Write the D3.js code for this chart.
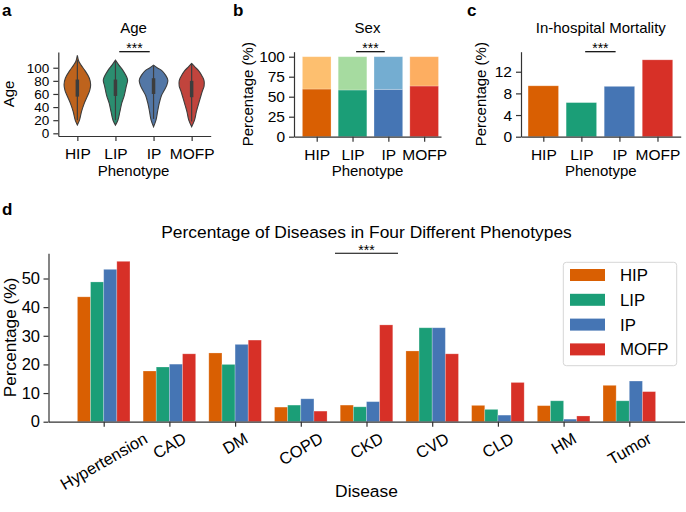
<!DOCTYPE html>
<html><head><meta charset="utf-8">
<script src="https://cdn.jsdelivr.net/npm/d3@7"></script>
<style>body{margin:0;background:#fff}svg{font-family:"Liberation Sans",Arial,Helvetica,sans-serif}</style>
</head><body>
<svg id="chart" width="686" height="512"></svg>
<script>
// ---------------- data ----------------
const phenotypes = ["HIP", "LIP", "IP", "MOFP"];
const colors = ["#d95f02", "#1b9e77", "#4575b4", "#d73027"];
const lightColors = ["#fdbf6f", "#a6dba0", "#74add1", "#fdae61"];

// Age violins: [age, relative density]
const violinHIP = [[12.5,0],[20,0.15],[33,0.29],[46,0.49],[58,0.73],[66,0.87],[74,0.93],[84,0.84],[96,0.52],[104,0.26],[110,0.10],[119,0]];
const violinLIP = [[12.5,0],[20,0.17],[33,0.31],[46,0.44],[58,0.62],[72,0.76],[80,0.85],[84,0.82],[96,0.52],[104,0.24],[111.6,0]];
const violinIP  = [[10,0],[20,0.17],[33,0.28],[46,0.40],[58,0.56],[66,0.76],[73.5,0.93],[81,1.0],[88,0.86],[96,0.56],[100,0.25],[104,0]];
const violinMOFP= [[10,0],[20,0.20],[33,0.33],[46,0.50],[58,0.66],[65,0.76],[72,0.87],[80,0.87],[86,0.76],[96,0.47],[101,0.24],[106.5,0]];
const ageQ1 = [56, 57, 60, 55];
const ageQ3 = [82, 82, 84, 80];
const ageWhiskLow = [20, 20, 22, 18];
const ageWhiskHigh = [112, 110, 103, 105];
const ageTicks = [0, 20, 40, 60, 80, 100];

// Sex (%)
const sexLower = [59.6, 58.4, 59.2, 63.4];
const sexUpper = [40.4, 41.6, 40.8, 36.6];
const sexTicks = [0, 25, 50, 75, 100];

// In-hospital mortality (%)
const mortality = [9.4, 6.3, 9.3, 14.2];
const mortalityTicks = [0, 4, 8, 12];

// Diseases (%)
const diseases = ["Hypertension", "CAD", "DM", "COPD", "CKD", "CVD", "CLD", "HM", "Tumor"];
const diseaseHIP  = [43.6, 17.7, 24.0, 5.1, 5.8, 24.7, 5.7, 5.6, 12.7];
const diseaseLIP  = [48.8, 19.1, 20.0, 5.8, 5.2, 32.8, 4.3, 7.3, 7.3];
const diseaseIP   = [53.2, 20.1, 27.0, 8.0, 7.0, 32.8, 2.3, 0.9, 14.2];
const diseaseMOFP = [56.0, 23.7, 28.5, 3.7, 33.8, 23.7, 13.7, 2.0, 10.5];
const diseaseTicks = [0, 10, 20, 30, 40, 50];

// ---------------- drawing ----------------
const svg = d3.select("#chart");
const AX = "#333";

function styleAxis(g, fs) {
  g.attr("font-family", null).attr("font-size", fs);
  g.select(".domain").attr("stroke", AX).attr("stroke-width", 1.2);
  g.selectAll(".tick line").attr("stroke", AX).attr("stroke-width", 1.2);
  g.selectAll(".tick text").attr("fill", "#000");
}

function frame(x, y, yTicks, yFmt, xLabels, fs, fsY) {
  const gx = svg.append("g").attr("transform", `translate(0,${y.range()[0]})`)
    .call(d3.axisBottom(x).tickValues(d3.range(xLabels.length)).tickFormat(i => xLabels[i])
      .tickSize(5).tickPadding(7).tickSizeOuter(0));
  styleAxis(gx, fs);
  const gy = svg.append("g").attr("transform", `translate(${x.range()[0]},0)`)
    .call(d3.axisLeft(y).tickValues(yTicks).tickFormat(yFmt).tickSize(5).tickPadding(4).tickSizeOuter(0));
  styleAxis(gy, fsY || fs);
}

function text(x, y, s, fs, opts = {}) {
  const t = svg.append("text").attr("x", x).attr("y", y).attr("font-size", fs)
    .attr("text-anchor", opts.anchor || "middle").attr("fill", "#000").text(s);
  if (opts.bold) t.attr("font-weight", "bold");
  if (opts.rotate) t.attr("transform", `rotate(${opts.rotate},${x},${y})`);
  return t;
}

function sig(x, y, a, b, yy) {
  svg.append("line").attr("x1", x(a)).attr("x2", x(b)).attr("y1", yy).attr("y2", yy)
    .attr("stroke", "#000").attr("stroke-width", 1.2);
  text((x(a) + x(b)) / 2, yy + 1.5, "***", 14);
}

const FS = 15.5;

// ---- panel a: Age violins ----
const xA = d3.scaleLinear([-0.5, 3.5], [58.3, 210.7]);
const yA = d3.scaleLinear([-4.1, 124], [136, 52]);
const wA = d3.scaleLinear([0, 1], [0, 14.3]);
const violins = [violinHIP, violinLIP, violinIP, violinMOFP];
violins.forEach((v, i) => {
  const cx = xA(i);
  const col = d3.hsl(colors[i]); col.s *= 0.75;
  const area = d3.area().curve(d3.curveCatmullRom.alpha(0.5))
    .y(d => yA(d[0])).x0(d => cx - wA(d[1])).x1(d => cx + wA(d[1]));
  svg.append("path").datum(v).attr("d", area).attr("fill", col.formatHex())
    .attr("stroke", "#3d3d3d").attr("stroke-width", 1.1);
  svg.append("line").attr("x1", cx).attr("x2", cx).attr("y1", yA(ageWhiskLow[i])).attr("y2", yA(ageWhiskHigh[i]))
    .attr("stroke", "#3d3d3d").attr("stroke-width", 1.2);
  svg.append("line").attr("x1", cx).attr("x2", cx).attr("y1", yA(ageQ1[i])).attr("y2", yA(ageQ3[i]))
    .attr("stroke", "#3d3d3d").attr("stroke-width", 3.5);
});
frame(xA, yA, ageTicks, d3.format("d"), phenotypes, FS, 13.5);
text(133.5, 32.7, "Age", 15);
text(133.5, 175.7, "Phenotype", 15);
text(14, 94, "Age", 15, {rotate: -90});
sig(xA, yA, 1.1, 1.9, 51.7);
text(2, 15.5, "a", 17, {anchor: "start", bold: true});

// ---- panel b: Sex stacked ----
const xB = d3.scaleLinear([-0.634, 3.47], [294, 441]);
const yB = d3.scaleLinear([0, 106.25], [136.7, 51.7]);
phenotypes.forEach((p, i) => {
  svg.append("rect").attr("x", xB(i - 0.4)).attr("width", xB(i + 0.4) - xB(i - 0.4))
    .attr("y", yB(sexLower[i])).attr("height", yB(0) - yB(sexLower[i])).attr("fill", colors[i])
    .attr("stroke", "#fff").attr("stroke-opacity", 0.3).attr("stroke-width", 0.8);
  svg.append("rect").attr("x", xB(i - 0.4)).attr("width", xB(i + 0.4) - xB(i - 0.4))
    .attr("y", yB(sexLower[i] + sexUpper[i])).attr("height", yB(sexLower[i]) - yB(sexLower[i] + sexUpper[i]))
    .attr("fill", lightColors[i]).attr("stroke", "#fff").attr("stroke-opacity", 0.3).attr("stroke-width", 0.8);
});
frame(xB, yB, sexTicks, d3.format("d"), phenotypes, FS);
text(367.5, 33.3, "Sex", 15);
text(367.5, 175.7, "Phenotype", 15);
text(252.7, 94.2, "Percentage (%)", 15, {rotate: -90});
sig(xB, yB, 1.1, 1.9, 51.7);
text(233, 15.5, "b", 17, {anchor: "start", bold: true});

// ---- panel c: Mortality ----
const xC = d3.scaleLinear([-0.586, 3.61], [521, 680.7]);
const yC = d3.scaleLinear([0, 15.7], [136.7, 51.7]);
phenotypes.forEach((p, i) => {
  svg.append("rect").attr("x", xC(i - 0.4)).attr("width", xC(i + 0.4) - xC(i - 0.4))
    .attr("y", yC(mortality[i])).attr("height", yC(0) - yC(mortality[i])).attr("fill", colors[i])
    .attr("stroke", "#fff").attr("stroke-opacity", 0.3).attr("stroke-width", 0.8);
});
frame(xC, yC, mortalityTicks, d3.format("d"), phenotypes, FS);
text(600.8, 33.3, "In-hospital Mortality", 15);
text(600.8, 175.7, "Phenotype", 15);
text(486, 94.2, "Percentage (%)", 15, {rotate: -90});
sig(xC, yC, 1.1, 1.9, 51.7);
text(467, 15.5, "c", 17, {anchor: "start", bold: true});

// ---- panel d: Diseases grouped ----
const xD = d3.scaleLinear([-0.84, 8.84], [48.5, 684.5]);
const yD = d3.scaleLinear([0, 58.8], [421.7, 253.3]);
const series = [diseaseHIP, diseaseLIP, diseaseIP, diseaseMOFP];
series.forEach((s, k) => {
  s.forEach((v, i) => {
    const x0 = xD(i - 0.4 + 0.2 * k), x1 = xD(i - 0.2 + 0.2 * k);
    svg.append("rect").attr("x", x0).attr("width", x1 - x0).attr("y", yD(v)).attr("height", yD(0) - yD(v))
      .attr("fill", colors[k]).attr("stroke", "#fff").attr("stroke-opacity", 0.3).attr("stroke-width", 0.8);
  });
});
const FSD = 16.5;
const gxD = svg.append("g").attr("transform", `translate(0,${yD(0)})`)
  .call(d3.axisBottom(xD).tickValues(d3.range(diseases.length)).tickFormat("").tickSize(5).tickSizeOuter(0));
styleAxis(gxD, FSD);
const gyD = svg.append("g").attr("transform", `translate(${xD.range()[0]},0)`)
  .call(d3.axisLeft(yD).tickValues(diseaseTicks).tickFormat(d3.format("d")).tickSize(5).tickPadding(3.5).tickSizeOuter(0));
styleAxis(gyD, FSD);
diseases.forEach((d, i) => {
  const t = svg.append("text").attr("font-size", FSD).attr("text-anchor", "middle")
    .attr("dominant-baseline", "central").attr("fill", "#000").text(d);
  const L = t.node().getComputedTextLength();
  const h = FSD * 1.15;
  const H = L * 0.5 + h * 0.866;
  const cx = xD(i), cy = 428.5 + H / 2;
  t.attr("x", cx).attr("y", cy).attr("transform", `rotate(-30,${cx},${cy})`);
});
text(366.5, 238, "Percentage of Diseases in Four Different Phenotypes", 17.4);
text(366.5, 497, "Disease", 17.4);
text(16, 337.5, "Percentage (%)", 17.2, {rotate: -90});
svg.append("line").attr("x1", xD(4 - 0.48)).attr("x2", xD(4 + 0.48)).attr("y1", 253.3).attr("y2", 253.3)
  .attr("stroke", "#000").attr("stroke-width", 1.1);
text(xD(4), 254.5, "***", 14);
text(2, 215, "d", 17, {anchor: "start", bold: true});

// legend
const lg = svg.append("g");
lg.append("rect").attr("x", 563.3).attr("y", 262.3).attr("width", 113.4).attr("height", 103.4).attr("rx", 3)
  .attr("fill", "#fff").attr("fill-opacity", 0.8).attr("stroke", "#d6d6d6").attr("stroke-width", 1);
phenotypes.forEach((p, i) => {
  const cy = 275 + i * 24.8;
  lg.append("rect").attr("x", 570).attr("y", cy - 6).attr("width", 35).attr("height", 12).attr("fill", colors[i]);
  lg.append("text").attr("x", 620).attr("y", cy + 6).attr("font-size", 16.8).attr("fill", "#000").text(p);
});
</script>
</body></html>
